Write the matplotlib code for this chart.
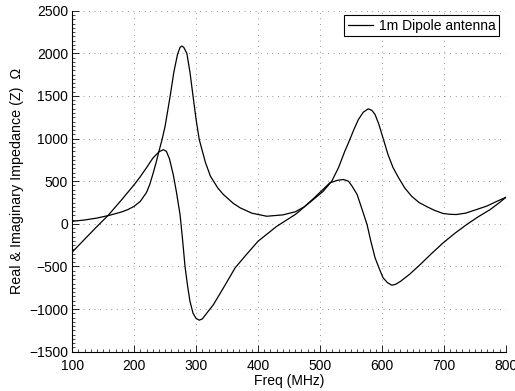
import matplotlib
matplotlib.use("Agg")
import matplotlib.pyplot as plt
from matplotlib.ticker import MultipleLocator

plt.rcParams['font.family'] = ['Liberation Sans', 'DejaVu Sans']

# Real part of impedance (Ohm) vs frequency (MHz)
freq_real = [100, 120, 140, 160, 180, 190, 200, 210, 220, 225, 230, 235, 240, 245, 250, 258, 264,
             270, 274, 277, 280, 285, 290, 295, 300, 305, 315, 323, 335, 344, 360,
             371, 390, 414, 440, 460, 475, 490, 505, 519, 530, 540, 546, 555, 562,
             570, 578, 584, 589, 595, 600, 605, 610, 618, 627, 637, 648, 660, 673,
             685, 699, 710, 720, 735, 753, 770, 786, 800]
z_real = [30, 45, 68, 100, 140, 168, 206, 265, 370, 460, 580, 710, 852, 990, 1150, 1497, 1780,
          1990, 2070, 2086, 2070, 2000, 1780, 1497, 1220, 989, 720, 560, 420, 344, 240,
          188, 125, 89, 105, 141, 200, 290, 380, 500, 660, 850, 950, 1110, 1223,
          1310, 1349, 1330, 1282, 1170, 1050, 930, 810, 660, 540, 420, 324, 250, 200,
          158, 121, 112, 109, 125, 168, 210, 265, 310]

# Imaginary part of impedance (Ohm) vs frequency (MHz)
freq_imag = [100, 120, 140, 158, 180, 200, 209, 220, 230, 240, 247, 252, 257, 263,
             268, 274, 278, 282, 286, 290, 295, 300, 305, 310, 318, 328, 345, 363,
             380, 400, 430, 460, 468, 490, 516, 528, 538, 546, 552, 560, 568, 576,
             582, 589, 596, 602, 609, 616, 622, 630, 645, 662, 680, 699, 718, 737,
             755, 775, 790, 800]
z_imag = [-330, -180, -30, 100, 285, 460, 545, 660, 770, 845, 870, 850, 760, 578,
          380, 109, -180, -497, -720, -908, -1050, -1110, -1130, -1115, -1040, -947, -740, -516,
          -370, -204, -30, 109, 156, 300, 481, 510, 520, 500, 440, 344, 170, -8,
          -200, -399, -530, -634, -690, -720, -710, -675, -590, -477, -350, -223, -110, -8,
          80, 168, 250, 310]

x_ticks = [100, 200, 300, 400, 500, 600, 700, 800]
y_ticks = [-1500, -1000, -500, 0, 500, 1000, 1500, 2000, 2500]

fig = plt.figure(figsize=(5.15, 3.91), dpi=100)
ax = fig.add_axes([0.1404, 0.1005, 0.982 - 0.1404, 0.9726 - 0.1005])

ax.plot(freq_real, z_real, color='black', lw=0.9, label='1m Dipole antenna')
ax.plot(freq_imag, z_imag, color='black', lw=0.9)

ax.set_xlim(100, 800)
ax.set_ylim(-1500, 2500)
ax.set_xticks(x_ticks)
ax.set_yticks(y_ticks)
ax.xaxis.set_minor_locator(MultipleLocator(10))
ax.yaxis.set_minor_locator(MultipleLocator(50))

for s in ['top', 'right']:
    ax.spines[s].set_visible(False)
for s in ['left', 'bottom']:
    ax.spines[s].set_linewidth(0.8)

ax.tick_params(which='major', direction='in', length=5, width=0.6, labelsize=10, pad=3)
ax.tick_params(axis='x', which='major', pad=5)
ax.tick_params(which='minor', direction='in', length=2.5, width=0.5)

ax.grid(True, which='major', color='#333333', linewidth=0.5, linestyle=(0, (1, 7)))

ax.set_xlabel('Freq (MHz)', fontsize=10, labelpad=1)
ax.set_ylabel('Real & Imaginary Impedance (Z)  Ω', fontsize=10.3, labelpad=4)

leg = ax.legend(loc='upper right', bbox_to_anchor=(0.9845, 0.987), fontsize=10,
                frameon=True, fancybox=False, edgecolor='black', framealpha=1,
                handlelength=1.85, handletextpad=0.4, borderpad=0.25, borderaxespad=0)
leg.get_frame().set_linewidth(0.8)

fig.savefig('out.png', dpi=100)
